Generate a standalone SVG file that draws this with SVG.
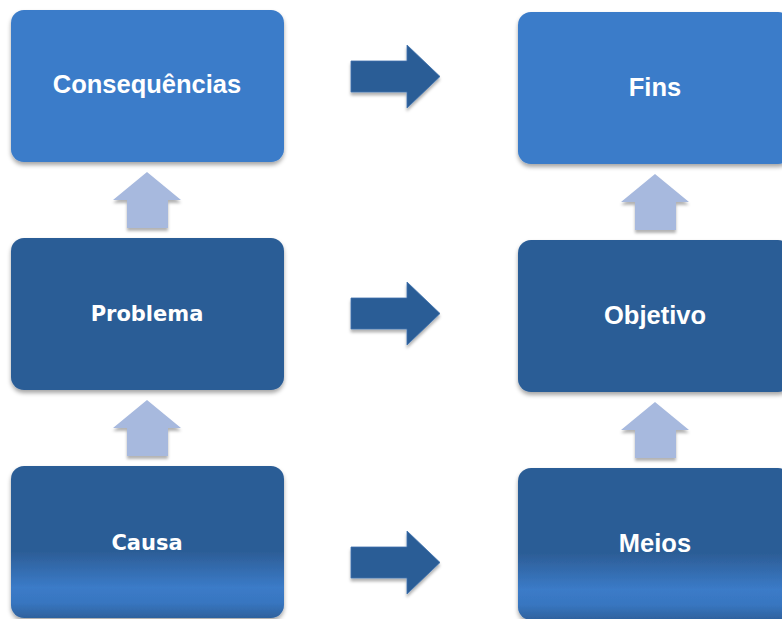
<svg xmlns="http://www.w3.org/2000/svg" width="782" height="619" viewBox="0 0 782 619">
<defs>
<filter id="sh" x="-10%" y="-10%" width="120%" height="125%">
<feDropShadow dx="0" dy="3" stdDeviation="2.2" flood-color="#000" flood-opacity="0.35"/>
</filter>
<filter id="sha" x="-20%" y="-20%" width="140%" height="150%">
<feDropShadow dx="0" dy="3" stdDeviation="1.8" flood-color="#000" flood-opacity="0.3"/>
</filter>
<linearGradient id="gb" x1="0" y1="0" x2="0" y2="1">
<stop offset="0" stop-color="#2C5D96"/>
<stop offset="0.56" stop-color="#2C5D96"/>
<stop offset="0.8" stop-color="#3B7BC8"/>
<stop offset="0.9" stop-color="#3876C0"/>
<stop offset="1" stop-color="#2E619D"/>
</linearGradient>
<path id="right" d="M0,16 H56 V0 L89,31.5 L56,63 V47 H0 Z"/>
<path id="up" d="M0,0 L34,28 H21 V56 H-20 V28 H-34 Z"/>
</defs>
<style>
.light{fill:#3A7BC9}
.dark{fill:#2C5D96}
.grad{fill:url(#gb)}
.box{filter:url(#sh)}
.ra{fill:#2C5D96;stroke:#3F72AD;stroke-width:0.8;filter:url(#sha)}
.ua{fill:#A7B9DE;filter:url(#sha)}
.ta{font-family:"Liberation Sans",Arial,sans-serif;font-weight:bold;font-size:25.5px;fill:#fff;text-anchor:middle}
.tv{font-family:"DejaVu Sans",Verdana,sans-serif;font-weight:bold;font-size:21px;fill:#fff;text-anchor:middle}
</style>
<rect width="782" height="619" fill="#fff"/>
<g id="connectors">
<use href="#right" class="ra" x="351" y="45"/>
<use href="#right" class="ra" x="351" y="282"/>
<use href="#right" class="ra" x="351" y="531"/>
<use href="#up" class="ua" x="147" y="172"/>
<use href="#up" class="ua" x="147" y="400"/>
<use href="#up" class="ua" x="655" y="174"/>
<use href="#up" class="ua" x="655" y="402"/>
</g>
<g id="consequencias">
<rect class="box light" x="11" y="10" width="273" height="152" rx="13"/>
<text class="ta" x="147" y="93">Consequências</text>
</g>
<g id="problema">
<rect class="box dark" x="11" y="238" width="273" height="152" rx="13"/>
<text class="tv" x="147" y="321">Problema</text>
</g>
<g id="causa">
<rect class="box grad" x="11" y="466" width="273" height="152" rx="13"/>
<text class="tv" x="147" y="550">Causa</text>
</g>
<g id="fins">
<rect class="box light" x="518" y="12" width="273" height="152" rx="13"/>
<text class="ta" x="655" y="96">Fins</text>
</g>
<g id="objetivo">
<rect class="box dark" x="518" y="240" width="273" height="152" rx="13"/>
<text class="ta" x="655" y="324">Objetivo</text>
</g>
<g id="meios">
<rect class="box grad" x="518" y="468" width="273" height="152" rx="13"/>
<text class="ta" x="655" y="552">Meios</text>
</g>
</svg>
